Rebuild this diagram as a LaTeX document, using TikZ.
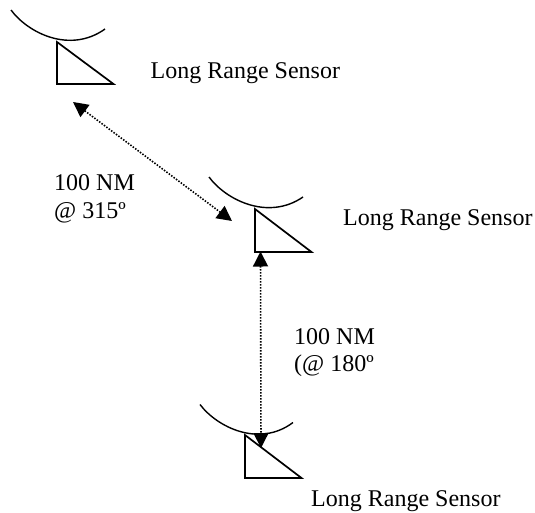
\documentclass[tikz,border=0pt]{standalone}
\usepackage{fontspec}
\setmainfont{Liberation Serif}
\usetikzlibrary{arrows.meta}
\tikzset{
  x=1pt,y=-1pt,
  shape line/.style={draw=black,line width=1.7pt,line join=miter},
  dish/.style={draw=black,line width=1.4pt},
  link/.style={draw=black,line width=1.6pt,dash pattern=on 1.5pt off 1.5pt,{Triangle[length=15pt,width=15pt]}-{Triangle[length=15pt,width=15pt]}},
  lbl/.style={inner sep=0pt,anchor=base west,font=\fontsize{24}{28}\selectfont},
}
\begin{document}
\begin{tikzpicture}
\useasboundingbox (0,0) rectangle (535,512);
% sensor 1
\draw[dish] (11,10) .. controls (28,33) and (70,54) .. (105,29);
\draw[shape line] (57,42) -- (57,84) -- (113.5,84) -- cycle;
% sensor 2
\draw[dish] (209,177) .. controls (226,200) and (268,221) .. (303,197);
\draw[shape line] (255,209) -- (255,252) -- (311.5,252) -- cycle;
% sensor 3
\draw[dish] (200,404.5) .. controls (217,427) and (259,448) .. (293,422.5);
\draw[shape line] (245,435) -- (245,478) -- (301.5,478) -- cycle;
% links
\coordinate (a1) at (73,102);
\coordinate (a2) at (232,221);
\coordinate (b1) at (260.5,251.5);
\coordinate (b2) at (261,448);
\draw[link] (a1) -- (a2);
\draw[link] (b1) -- (b2);
% labels
\node[lbl] (s1) at (150.5,78) {Long Range Sensor};
\node[lbl] (s2) at (343,225) {Long Range Sensor};
\node[lbl] (s3) at (311,506) {Long Range Sensor};
\node[lbl] (d1) at (54,190) {100 NM};
\node[lbl] (e1) at (54,218) {@ 315º};
\node[lbl] (d2) at (294,344) {100 NM};
\node[lbl] (e2) at (294,371) {(@ 180º};
\end{tikzpicture}
\end{document}
